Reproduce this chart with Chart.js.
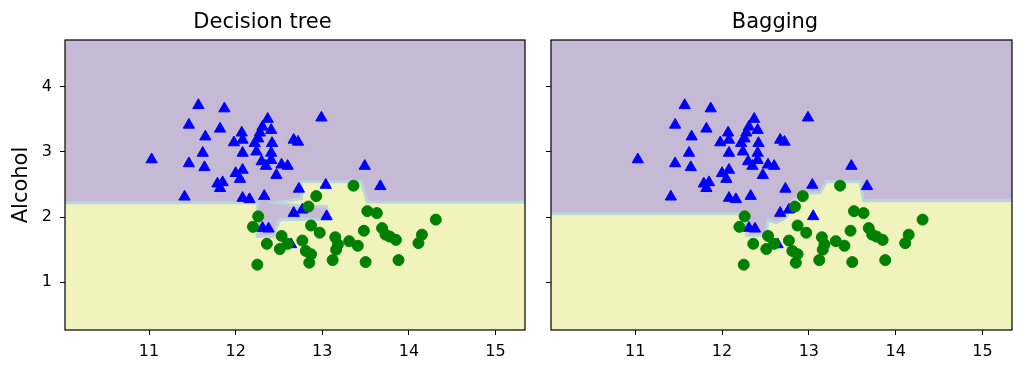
<!DOCTYPE html>
<html>
<head>
<meta charset="utf-8">
<script src="https://cdn.jsdelivr.net/npm/chart.js@4.4.0/dist/chart.umd.min.js"></script>
<style>
  html, body { margin: 0; padding: 0; background: #fff; }
  #wrap { position: relative; width: 1024px; height: 375px; }
  canvas { position: absolute; top: 0; }
</style>
</head>
<body>
<div id="wrap">
  <canvas id="treeChart" width="538" height="375" style="left:0"></canvas>
  <canvas id="bagChart" width="486" height="375" style="left:538px"></canvas>
</div>
<script>
// training points, class 2 (triangles) and class 3 (circles)
const triangleX = [11.57, 11.87, 11.46, 11.82, 11.65, 11.03, 11.62, 11.46, 11.64, 11.79,
  11.85, 11.82, 11.41, 11.98, 12.07, 12.08, 12.22, 12.26, 12.28, 12.37,
  12.31, 12.41, 12.24, 12.08, 12.00, 12.08, 12.05, 12.30, 12.35, 12.41,
  12.47, 12.42, 12.41, 12.53, 12.60, 12.67, 12.72, 12.99, 13.49, 13.67,
  13.04, 12.73, 12.08, 12.16, 12.33, 12.67, 12.77, 13.05, 12.31, 12.38, 12.64];
const triangleY = [3.71, 3.66, 3.41, 3.35, 3.23, 2.88, 2.98, 2.82, 2.76, 2.51,
  2.53, 2.44, 2.31, 3.14, 3.29, 3.18, 3.13, 3.20, 3.29, 3.50,
  3.38, 3.33, 3.00, 2.98, 2.67, 2.72, 2.58, 2.85, 2.78, 2.87,
  2.64, 3.13, 2.98, 2.80, 2.78, 3.18, 3.15, 3.52, 2.78, 2.47,
  2.49, 2.43, 2.29, 2.27, 2.32, 2.06, 2.11, 2.01, 1.83, 1.82, 1.58];

const circleX = [13.36, 12.93, 12.84, 12.26, 12.20, 12.87, 12.97, 12.36, 12.53, 12.51,
  12.60, 12.77, 12.81, 12.87, 12.85, 12.25, 13.15, 13.18, 13.16, 13.12,
  13.31, 13.41, 13.52, 13.63, 14.31, 13.48, 13.69, 13.73, 13.78, 13.85,
  14.15, 14.11, 13.50, 13.88];
const circleY = [2.48, 2.32, 2.16, 2.01, 1.85, 1.87, 1.76, 1.59, 1.71, 1.51,
  1.59, 1.64, 1.48, 1.43, 1.30, 1.27, 1.69, 1.58, 1.50, 1.34,
  1.63, 1.56, 2.09, 2.06, 1.96, 1.79, 1.83, 1.73, 1.70, 1.65,
  1.73, 1.60, 1.31, 1.34];

// decision regions (class 2 area, the rest is class 3)
const treeRegionX = [9.5, 12.25, 12.25, 12.43, 12.51, 13.08, 13.05, 12.74, 12.47, 12.76, 12.76, 13.45, 13.52, 16, 16, 9.5];
const treeRegionY = [2.22, 2.22, 1.70, 1.70, 1.96, 1.96, 2.16, 2.17, 2.22, 2.28, 2.54, 2.54, 2.23, 2.23, 5.5, 5.5];
const bagRegionX = [9.5, 12.28, 12.28, 12.51, 12.53, 12.62, 12.74, 12.80, 12.90, 13.13, 13.20, 13.59, 13.63, 16, 16, 9.5];
const bagRegionY = [2.05, 2.05, 1.72, 1.72, 1.96, 1.91, 1.99, 2.22, 2.36, 2.37, 2.54, 2.54, 2.25, 2.25, 5.5, 5.5];
const fullX = [9.5, 16, 16, 9.5];
const fullY = [0, 0, 5.5, 5.5];

const xTicks = [11, 12, 13, 14, 15];
const yTicks = [1, 2, 3, 4];

const FONT = "'DejaVu Sans', sans-serif";
const PURPLE = 'rgb(198, 185, 213)';
const YELLOW = 'rgb(240, 243, 188)';
const EDGE = 'rgb(186, 214, 219)';

function toPoints(xs, ys) {
  return xs.map((x, i) => ({ x: x, y: ys[i] }));
}

// black box round the plot area, like the matplotlib spines
const frame = {
  id: 'frame',
  afterDatasetsDraw(chart) {
    const a = chart.chartArea;
    const c = chart.ctx;
    c.save();
    c.strokeStyle = '#000';
    c.lineWidth = 1.2;
    c.strokeRect(a.left, a.top, a.right - a.left, a.bottom - a.top);
    c.restore();
  }
};

function drawPanel(id, title, regionX, regionY, withLabels) {
  new Chart(document.getElementById(id), {
    type: 'line',
    data: {
      datasets: [
        { data: toPoints(fullX, fullY), fill: 'shape', backgroundColor: YELLOW,
          borderWidth: 0, pointRadius: 0, order: 4 },
        { data: toPoints(regionX, regionY), fill: 'shape', backgroundColor: PURPLE,
          borderColor: EDGE, borderWidth: 3, pointRadius: 0, order: 3 },
        { data: toPoints(triangleX, triangleY), showLine: false, pointStyle: 'triangle',
          pointRadius: 6.5, backgroundColor: '#0000ff', borderColor: '#0000ff', borderWidth: 1, order: 2 },
        { data: toPoints(circleX, circleY), showLine: false, pointStyle: 'circle',
          pointRadius: 5.5, backgroundColor: '#008000', borderColor: '#008000', borderWidth: 1, order: 1 }
      ]
    },
    options: {
      responsive: false,
      animation: false,
      events: [],
      layout: { padding: { right: withLabels ? 13 : 12 } },
      plugins: {
        legend: { display: false },
        tooltip: { enabled: false },
        title: {
          display: true, text: title, color: '#000',
          font: { family: FONT, size: 21, weight: 'normal' },
          padding: { top: 10, bottom: 4.8 }
        }
      },
      scales: {
        x: {
          type: 'linear', min: 10.03, max: 15.34,
          afterBuildTicks: s => { s.ticks = xTicks.map(v => ({ value: v })); },
          afterFit: s => { s.height = 45; },
          border: { display: false },
          grid: { drawOnChartArea: false, color: '#000', tickLength: 5 },
          ticks: { color: '#000', font: { family: FONT, size: 16 }, padding: 7, maxRotation: 0 }
        },
        y: {
          type: 'linear', min: 0.27, max: 4.71,
          afterBuildTicks: s => { s.ticks = yTicks.map(v => ({ value: v })); },
          afterFit: s => { s.width = withLabels ? 65 : 13; },
          border: { display: false },
          grid: { drawOnChartArea: false, color: '#000', tickLength: 5 },
          ticks: {
            color: '#000', font: { family: FONT, size: 16 }, padding: 8,
            callback: v => withLabels ? String(v) : ''
          },
          title: {
            display: withLabels, text: 'Alcohol', color: '#000',
            font: { family: FONT, size: 21 }, padding: { top: 9, bottom: 0 }
          }
        }
      }
    },
    plugins: [frame]
  });
}

drawPanel('treeChart', 'Decision tree', treeRegionX, treeRegionY, true);
drawPanel('bagChart', 'Bagging', bagRegionX, bagRegionY, false);
</script>
</body>
</html>
